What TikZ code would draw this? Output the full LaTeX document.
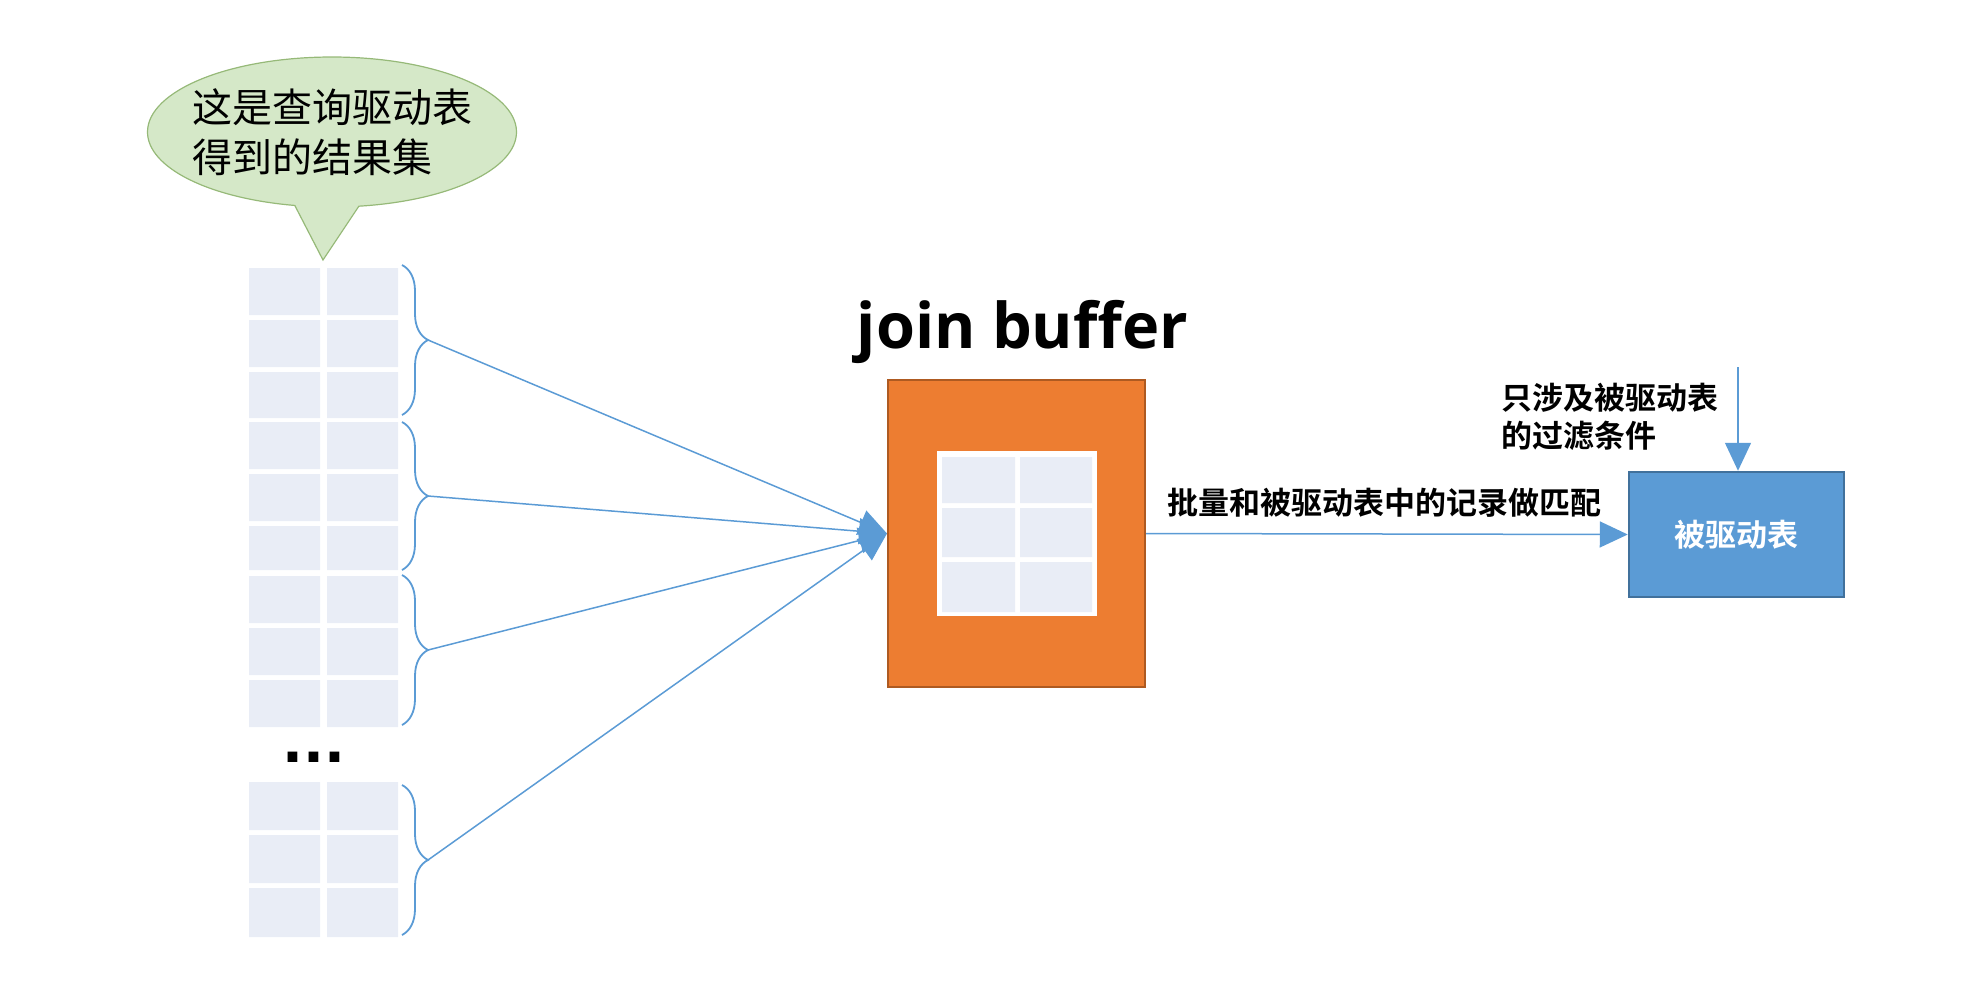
\documentclass[tikz,border=0pt]{standalone}
\usepackage{fontspec}
\setmainfont{Carlito}
\newfontfamily\cjk{Noto Sans CJK SC}[BoldFont={Noto Sans CJK SC Bold}]
\newfontfamily\titlefont{Open Sans}
\newfontfamily\dotfont{DejaVu Sans}
\usetikzlibrary{arrows.meta,positioning,shapes.callouts,decorations.pathreplacing}

\definecolor{cellgray}{RGB}{233,237,246}
\definecolor{linkblue}{RGB}{91,155,213}
\definecolor{drvline}{RGB}{65,113,156}
\definecolor{bufor}{RGB}{237,125,49}
\definecolor{bufline}{RGB}{174,90,33}
\definecolor{bubblefill}{RGB}{213,232,200}
\definecolor{bubbleline}{RGB}{150,185,120}

\begin{document}
\begin{tikzpicture}[x=1pt,y=-1pt,
  cell/.style={fill=cellgray,draw=none},
  brace/.style={draw=linkblue,line width=1.8pt,decorate,decoration={brace,amplitude=26pt}},
  link/.style={draw=linkblue,line width=1.5pt,-{Triangle[length=28pt,width=26pt]}},
  label/.style={font=\cjk\bfseries\fontsize{31}{38}\selectfont,inner sep=0pt,align=left},
  bubble/.style={ellipse callout,fill=bubblefill,draw=bubbleline,line width=1.2pt,
    callout pointer arc=20,inner xsep=-20pt,inner ysep=0pt,minimum width=369pt,minimum height=150pt,
    align=left,font=\cjk\fontsize{40}{50}\selectfont},
  bufbox/.style={rectangle,fill=bufor,draw=bufline,line width=2pt,minimum width=257pt,minimum height=307pt},
  gridbox/.style={rectangle,fill=white,draw=none,minimum width=160pt,minimum height=165pt},
  drvbox/.style={rectangle,fill=linkblue,draw=drvline,line width=2.5pt,minimum width=215pt,
    minimum height=125pt,text=white,font=\cjk\bfseries\fontsize{31}{36}\selectfont}]

  \useasboundingbox (0,0) rectangle (1983,991);

  % Callout over the driving table
  \node[bubble,callout absolute pointer={(323,260)}] (bubble) at (332,132)
    {这是查询驱动表\\得到的结果集};

  % Result set of the driving table
  \fill[cell] (249,268) rectangle (320,315) (327,268) rectangle (398,315);
  \fill[cell] (249,320) rectangle (320,367) (327,320) rectangle (398,367);
  \fill[cell] (249,372) rectangle (320,418) (327,372) rectangle (398,418);
  \fill[cell] (249,422) rectangle (320,469) (327,422) rectangle (398,469);
  \fill[cell] (249,474) rectangle (320,521) (327,474) rectangle (398,521);
  \fill[cell] (249,526) rectangle (320,570) (327,526) rectangle (398,570);
  \fill[cell] (249,576) rectangle (320,623) (327,576) rectangle (398,623);
  \fill[cell] (249,628) rectangle (320,675) (327,628) rectangle (398,675);
  \fill[cell] (249,680) rectangle (320,727) (327,680) rectangle (398,727);

  \node[font=\dotfont\bfseries\fontsize{55}{60}\selectfont,inner sep=0pt,anchor=base] (dots) at (314,762) {...};

  \fill[cell] (249,782) rectangle (320,830) (327,782) rectangle (398,830);
  \fill[cell] (249,835) rectangle (320,883) (327,835) rectangle (398,883);
  \fill[cell] (249,888) rectangle (320,937) (327,888) rectangle (398,937);

  % Braces round each batch
  \draw[brace] (402,265) -- (402,415);
  \draw[brace] (402,422) -- (402,570);
  \draw[brace] (402,575) -- (402,725);
  \draw[brace] (402,785) -- (402,935);
  \coordinate (g1) at (428,340);
  \coordinate (g2) at (428,496);
  \coordinate (g3) at (428,650);
  \coordinate (g4) at (428,860);

  % Join buffer
  \node[bufbox] (buf) at (1016.5,533.5) {};
  \node[gridbox] (bufgrid) at (buf.center) {};
  \fill[cell] (942,457) rectangle (1015,503) (1020,457) rectangle (1092,503);
  \fill[cell] (942,508) rectangle (1015,557) (1020,508) rectangle (1092,557);
  \fill[cell] (942,562) rectangle (1015,612) (1020,562) rectangle (1092,612);
  \node[font=\titlefont\bfseries\fontsize{63}{70}\selectfont,inner sep=0pt,above=15pt of buf,xshift=6pt] (buftitle) {join buffer};

  % Driven table
  \node[drvbox] (drv) at (1736.5,534.5) {被驱动表};
  \coordinate (filter) at (1738,367);
  \node[label,above left=17pt and 26pt of drv.west] (matchlabel) {批量和被驱动表中的记录做匹配};
  \node[label,above left=20pt and 18pt of drv.north] (filterlabel) {只涉及被驱动表\\的过滤条件};

  % Connections
  \draw[link] (g1) -- (buf.west);
  \draw[link] (g2) -- (buf.west);
  \draw[link] (g3) -- (buf.west);
  \draw[link] (g4) -- (buf.west);
  \draw[link] (buf.east) -- (drv.west);
  \draw[link] (filter) -- (filter |- drv.north);
\end{tikzpicture}
\end{document}
